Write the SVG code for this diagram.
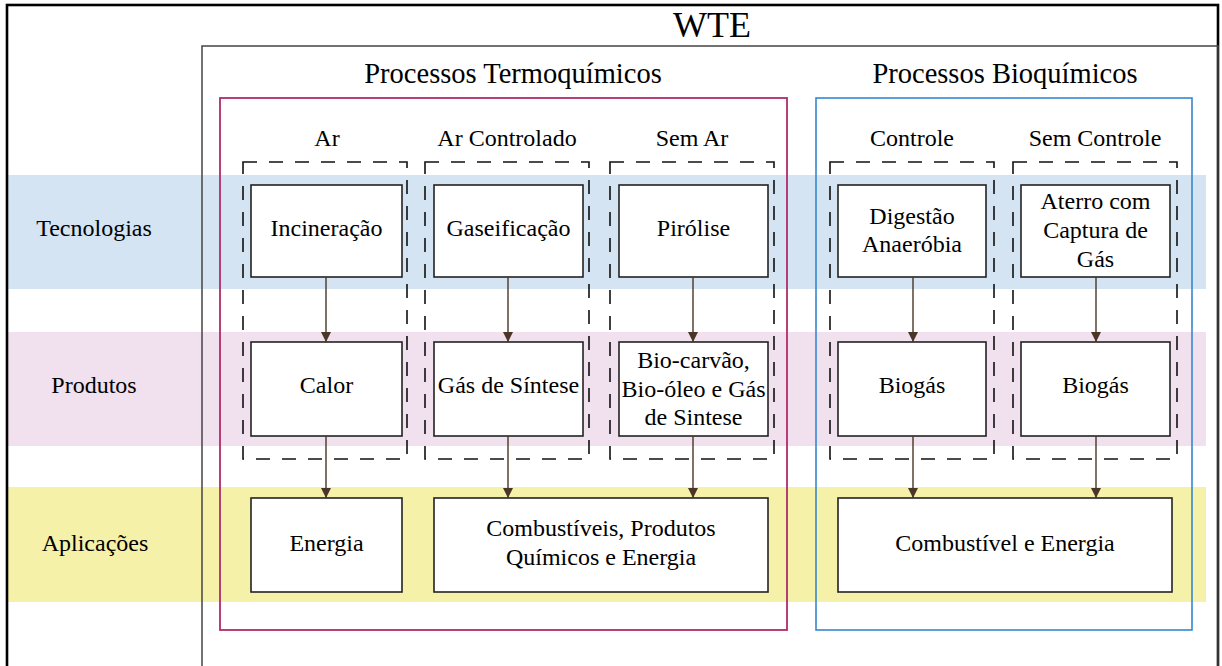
<svg xmlns="http://www.w3.org/2000/svg" width="1222" height="666" viewBox="0 0 1222 666">
<defs>
<style>
text{font-family:"Liberation Serif","Times New Roman",serif;fill:#000;text-anchor:middle}
.t{font-size:24px}
.h{font-size:28.5px}
.node rect{fill:#fff;stroke:#222;stroke-width:1.6}
.grp{fill:none;stroke:#111;stroke-width:1.6;stroke-dasharray:14 12}
.conn line{stroke:#4a3526;stroke-width:1.4;marker-end:url(#ah)}
</style>
<marker id="ah" viewBox="0 0 10 10" refX="10" refY="5" markerWidth="10" markerHeight="10" markerUnits="userSpaceOnUse" orient="auto">
<path d="M0,0 L10,5 L0,10 z" fill="#4a3526"/>
</marker>
</defs>
<rect x="0" y="0" width="1222" height="666" fill="#fff"/>
<!-- bands -->
<rect x="8" y="175" width="1198" height="114" fill="#d4e4f3"/>
<rect x="8" y="332" width="1198" height="114" fill="#f1e0ee"/>
<rect x="8" y="487" width="1198" height="115" fill="#f5f1a9"/>
<!-- frames -->
<rect x="7" y="5" width="1211" height="680" fill="none" stroke="#000" stroke-width="2.6"/>
<rect x="202" y="46" width="1016" height="640" fill="none" stroke="#444" stroke-width="1.5"/>
<text x="712" y="37" style="font-size:36px">WTE</text>
<g id="termo">
<rect x="220" y="98" width="567" height="532" fill="none" stroke="#b02c6b" stroke-width="1.8"/>
<text class="h" x="513" y="83">Processos Termoquímicos</text>
</g>
<g id="bio">
<rect x="816" y="98" width="376" height="532" fill="none" stroke="#3589cd" stroke-width="1.6"/>
<text class="h" x="1005" y="83">Processos Bioquímicos</text>
</g>
<!-- row labels -->
<text class="t" x="94" y="236">Tecnologias</text>
<text class="t" x="94" y="393">Produtos</text>
<text class="t" x="95" y="551">Aplicações</text>
<!-- dashed groups -->
<g id="g-ar"><rect class="grp" x="243" y="162" width="164" height="297"/><text class="t" x="327" y="146">Ar</text></g>
<g id="g-arc"><rect class="grp" x="425" y="162" width="164" height="297"/><text class="t" x="507" y="146">Ar Controlado</text></g>
<g id="g-semar"><rect class="grp" x="610" y="162" width="164" height="297"/><text class="t" x="692" y="146">Sem Ar</text></g>
<g id="g-ctrl"><rect class="grp" x="830" y="162" width="164" height="297"/><text class="t" x="912" y="146">Controle</text></g>
<g id="g-semctrl"><rect class="grp" x="1013" y="162" width="164" height="297"/><text class="t" x="1095" y="146">Sem Controle</text></g>
<!-- row 1 -->
<g id="incineracao" class="node"><rect x="251" y="185" width="151" height="92"/><text class="t" x="326.5" y="236">Incineração</text></g>
<g id="gaseificacao" class="node"><rect x="434" y="185" width="149" height="92"/><text class="t" x="508.5" y="236">Gaseificação</text></g>
<g id="pirolise" class="node"><rect x="619" y="185" width="149" height="92"/><text class="t" x="693.5" y="236">Pirólise</text></g>
<g id="digestao" class="node"><rect x="838" y="185" width="148" height="92"/><text class="t" x="912" y="224">Digestão</text><text class="t" x="912" y="252">Anaeróbia</text></g>
<g id="aterro" class="node"><rect x="1021" y="185" width="149" height="92"/><text class="t" x="1095.5" y="209">Aterro com</text><text class="t" x="1095.5" y="238">Captura de</text><text class="t" x="1095.5" y="267">Gás</text></g>
<!-- row 2 -->
<g id="calor" class="node"><rect x="251" y="342" width="151" height="94"/><text class="t" x="326.5" y="393">Calor</text></g>
<g id="gassintese" class="node"><rect x="434" y="342" width="149" height="94"/><text class="t" x="508.5" y="393">Gás de Síntese</text></g>
<g id="biocarvao" class="node"><rect x="619" y="342" width="149" height="94"/><text class="t" x="693.5" y="368">Bio-carvão,</text><text class="t" x="693.5" y="397">Bio-óleo e Gás</text><text class="t" x="693.5" y="425">de Sintese</text></g>
<g id="biogas1" class="node"><rect x="838" y="342" width="148" height="94"/><text class="t" x="912" y="393">Biogás</text></g>
<g id="biogas2" class="node"><rect x="1021" y="342" width="149" height="94"/><text class="t" x="1095.5" y="393">Biogás</text></g>
<!-- row 3 -->
<g id="energia" class="node"><rect x="251" y="498" width="151" height="94"/><text class="t" x="326.5" y="551">Energia</text></g>
<g id="combustiveis" class="node"><rect x="434" y="498" width="334" height="94"/><text class="t" x="601" y="536">Combustíveis, Produtos</text><text class="t" x="601" y="565">Químicos e Energia</text></g>
<g id="combenergia" class="node"><rect x="838" y="498" width="334" height="94"/><text class="t" x="1005" y="551">Combustível e Energia</text></g>
<!-- connectors -->
<g id="connectors" class="conn">
<line x1="326" y1="277" x2="326" y2="342"/>
<line x1="508" y1="277" x2="508" y2="342"/>
<line x1="693" y1="277" x2="693" y2="342"/>
<line x1="913" y1="277" x2="913" y2="342"/>
<line x1="1096" y1="277" x2="1096" y2="342"/>
<line x1="326" y1="436" x2="326" y2="498"/>
<line x1="508" y1="436" x2="508" y2="498"/>
<line x1="693" y1="436" x2="693" y2="498"/>
<line x1="913" y1="436" x2="913" y2="498"/>
<line x1="1096" y1="436" x2="1096" y2="498"/>
</g>
</svg>
